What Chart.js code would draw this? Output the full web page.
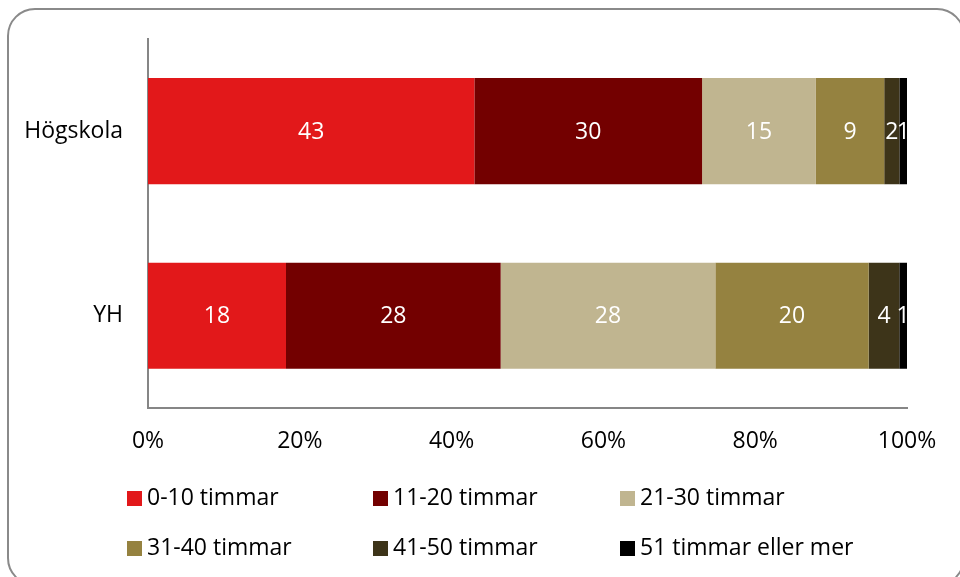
<!DOCTYPE html>
<html>
<head>
<meta charset="utf-8">
<script src="https://cdn.jsdelivr.net/npm/chart.js@4"></script>
<style>
  html, body { margin: 0; padding: 0; background: #fff; overflow: hidden; }
  #frame {
    position: absolute; left: 7px; top: 8px; width: 958px; height: 578px;
    border: 2px solid #8a8a8a; border-radius: 28px; box-sizing: border-box;
  }
  #wrap { position: absolute; left: 0; top: 0; width: 960px; height: 577px; }
</style>
</head>
<body>
<div id="frame"></div>
<div id="wrap"><canvas id="chart" width="960" height="577"></canvas></div>
<script>
const categories = ["Högskola", "YH"];
const seriesNames = ["0-10 timmar", "11-20 timmar", "21-30 timmar", "31-40 timmar", "41-50 timmar", "51 timmar eller mer"];
const seriesColors = ["#e2181a", "#730000", "#c0b590", "#958240", "#3d3419", "#000000"];
// values per series: [Högskola, YH]
const s0_10 = [43, 18];
const s11_20 = [30, 28];
const s21_30 = [15, 28];
const s31_40 = [9, 20];
const s41_50 = [2, 4];
const s51plus = [1, 1];
const xTicks = [0, 20, 40, 60, 80, 100];

const FONT = "'Open Sans', sans-serif";
const FSIZE = 23;
const allSeries = [s0_10, s11_20, s21_30, s31_40, s41_50, s51plus];

// 100% stacked: each category is scaled to its own total
const totals = categories.map((c, i) => allSeries.reduce((a, s) => a + s[i], 0));

const datasets = allSeries.map((vals, k) => ({
  label: seriesNames[k],
  data: vals.map((v, i) => v / totals[i] * 100),
  raw: vals,
  backgroundColor: seriesColors[k],
  borderWidth: 0,
  barPercentage: 0.575,
  categoryPercentage: 1.0,
}));

const segmentLabels = {
  id: "segmentLabels",
  afterDatasetsDraw(chart) {
    const ctx = chart.ctx;
    ctx.save();
    ctx.font = FSIZE + "px " + FONT;
    ctx.fillStyle = "#ffffff";
    ctx.textAlign = "center";
    ctx.textBaseline = "middle";
    chart.data.datasets.forEach((ds, k) => {
      chart.getDatasetMeta(k).data.forEach((bar, i) => {
        const cx = (bar.x + bar.base) / 2;
        ctx.fillText(String(ds.raw[i]), cx, bar.y + 1);
      });
    });
    ctx.restore();
  }
};

const gridLegend = {
  id: "gridLegend",
  afterDraw(chart) {
    const ctx = chart.ctx;
    const colX = [127, 373, 620];
    const rowY = [498, 548];
    ctx.save();
    ctx.font = FSIZE + "px " + FONT;
    ctx.textBaseline = "middle";
    ctx.textAlign = "left";
    chart.data.datasets.forEach((ds, k) => {
      const x = colX[k % 3];
      const y = rowY[Math.floor(k / 3)];
      ctx.fillStyle = ds.backgroundColor;
      ctx.fillRect(x, y - 7, 15, 15);
      ctx.fillStyle = "#000000";
      ctx.fillText(ds.label, x + 20, y);
    });
    ctx.restore();
  }
};

new Chart(document.getElementById("chart"), {
  type: "bar",
  data: { labels: categories, datasets: datasets },
  options: {
    indexAxis: "y",
    responsive: false,
    animation: false,
    layout: { padding: { top: 38, right: 53, left: 0, bottom: 0 } },
    plugins: {
      legend: { display: false },
      tooltip: { enabled: false },
    },
    scales: {
      x: {
        stacked: true,
        min: 0,
        max: 100,
        afterFit: (s) => { s.height = 169; },
        afterBuildTicks: (s) => { s.ticks = xTicks.map(v => ({ value: v })); },
        grid: { display: false, drawTicks: false },
        border: { display: true, color: "#868686", width: 2 },
        ticks: {
          padding: 20,
          color: "#000000",
          font: { size: FSIZE, family: FONT },
          callback: (v) => v + "%",
          maxRotation: 0,
        },
      },
      y: {
        stacked: true,
        afterFit: (s) => { s.width = 148; },
        grid: { display: false, drawTicks: false },
        border: { display: true, color: "#868686", width: 2 },
        ticks: {
          padding: 25,
          color: "#000000",
          font: { size: FSIZE, family: FONT },
        },
      },
    },
  },
  plugins: [segmentLabels, gridLegend],
});
</script>
</body>
</html>
